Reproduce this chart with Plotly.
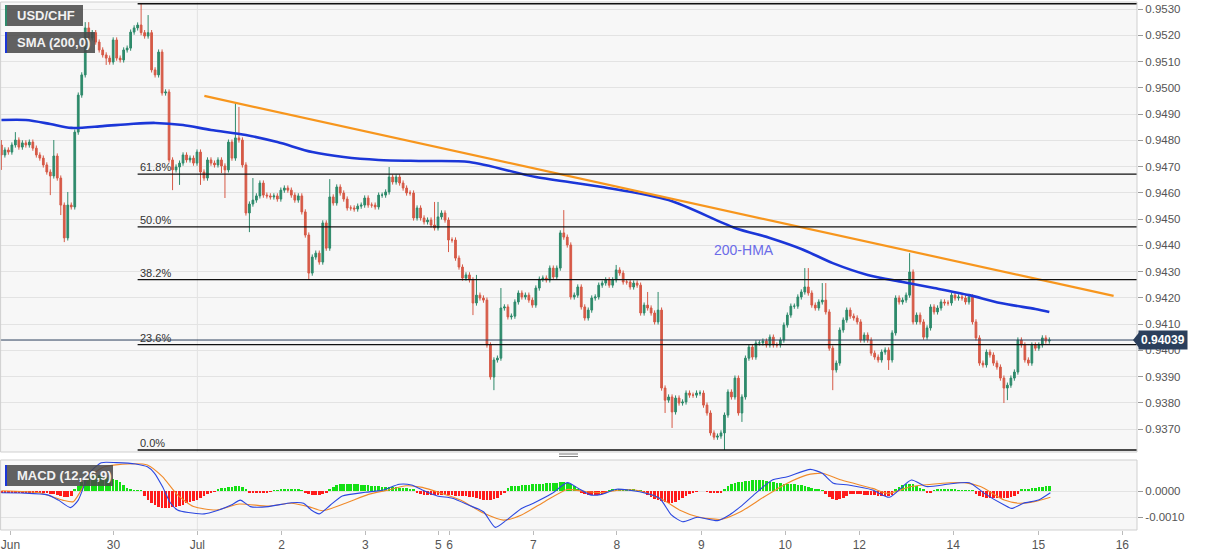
import plotly.graph_objects as go

# ---------------- data ----------------
first_open = 0.94782
close = [
    0.94744, 0.94763, 0.94755, 0.94782, 0.94801, 0.94774, 0.94790,
    0.94782, 0.94793, 0.94770, 0.94744, 0.94732, 0.94706, 0.94679, 0.94664, 0.94740, 0.94656,
    0.94553, 0.94428, 0.94553, 0.94546, 0.94831, 0.94972, 0.95049, 0.95228, 0.95190, 0.95210,
    0.95174, 0.95144, 0.95125, 0.95113, 0.95098,
    0.95182, 0.95113, 0.95106, 0.95144, 0.95151, 0.95212, 0.95228, 0.95239, 0.95210, 0.95197,
    0.95210, 0.95068, 0.95049, 0.95136, 0.94980, 0.94984, 0.94725, 0.94687, 0.94698, 0.94713, 0.94744,
    0.94725, 0.94732, 0.94713,
    0.94755, 0.94679, 0.94656, 0.94725, 0.94713,
    0.94706, 0.94725, 0.94702, 0.94687, 0.94793, 0.94732, 0.94809, 0.94801, 0.94706, 0.94523,
    0.94557, 0.94572, 0.94588, 0.94637, 0.94591, 0.94588, 0.94584, 0.94588, 0.94576, 0.94610,
    0.94618, 0.94610, 0.94591, 0.94572, 0.94588, 0.94527, 0.94439, 0.94294, 0.94355, 0.94370,
    0.94336, 0.94485, 0.94389, 0.94584, 0.94561, 0.94622, 0.94599, 0.94576, 0.94542, 0.94542,
    0.94538, 0.94549, 0.94553, 0.94580, 0.94553, 0.94553, 0.94546, 0.94591, 0.94591, 0.94603,
    0.94660, 0.94641, 0.94660, 0.94637, 0.94618, 0.94599, 0.94599, 0.94504, 0.94542, 0.94504,
    0.94489, 0.94496, 0.94477, 0.94466, 0.94508, 0.94523, 0.94496, 0.94420, 0.94420, 0.94351,
    0.94317, 0.94275, 0.94287, 0.94268, 0.94180, 0.94210, 0.94199, 0.94191, 0.94020, 0.93898,
    0.93963, 0.93970, 0.94161, 0.94165, 0.94127, 0.94130, 0.94184, 0.94218, 0.94203, 0.94210,
    0.94191, 0.94172, 0.94237, 0.94271, 0.94275, 0.94268, 0.94313, 0.94279, 0.94313, 0.94447,
    0.94431, 0.94401, 0.94203, 0.94210, 0.94241, 0.94165, 0.94123, 0.94153, 0.94199, 0.94203,
    0.94248, 0.94256, 0.94268, 0.94248, 0.94268, 0.94306, 0.94294, 0.94260, 0.94260, 0.94241,
    0.94256, 0.94248, 0.94142, 0.94172, 0.94161, 0.94142, 0.94108, 0.94153, 0.93856, 0.93810,
    0.93822, 0.93765, 0.93818, 0.93799, 0.93803, 0.93837, 0.93829, 0.93829, 0.93837, 0.93837,
    0.93791, 0.93761, 0.93685, 0.93669, 0.93673, 0.93685, 0.93753, 0.93841, 0.93822, 0.93894,
    0.93761, 0.93822, 0.93970, 0.94012, 0.93974, 0.94028, 0.94028, 0.94035, 0.94020, 0.94050,
    0.94020, 0.94020, 0.94039, 0.94096, 0.94134, 0.94168, 0.94168, 0.94203, 0.94222, 0.94241,
    0.94218, 0.94172, 0.94161, 0.94184, 0.94191, 0.94146, 0.94008, 0.93925, 0.93951, 0.94077,
    0.94115, 0.94153, 0.94130, 0.94123, 0.94108, 0.94039, 0.94058, 0.94039, 0.93989, 0.93974,
    0.93963, 0.93993, 0.94001, 0.93963, 0.94066, 0.94199, 0.94184, 0.94191, 0.94210, 0.94298,
    0.94108, 0.94134, 0.94108, 0.94050, 0.94085, 0.94165, 0.94146, 0.94161, 0.94184, 0.94180,
    0.94180, 0.94210, 0.94199, 0.94203, 0.94199, 0.94184, 0.94203, 0.94108, 0.94047, 0.93951,
    0.93944, 0.93993, 0.93982, 0.93951, 0.93936, 0.93894, 0.93856, 0.93867, 0.93894, 0.93917,
    0.94039, 0.94020, 0.93963, 0.93951, 0.94020, 0.94008, 0.94020, 0.94047, 0.94035, 0.94039,
]

# notable wick extremes (candle index -> price)
high_points = {0: 0.94801, 4: 0.94831, 15: 0.94801, 19: 0.94603, 24: 0.95250, 25: 0.95250,
               40: 0.95323, 42: 0.95277, 67: 0.94942, 68: 0.94927, 72: 0.94656, 94: 0.94652,
               111: 0.94698, 124: 0.94565, 125: 0.94565, 136: 0.94287, 143: 0.94237,
               161: 0.94534, 176: 0.94325, 185: 0.94222, 188: 0.94222, 230: 0.94313,
               231: 0.94313, 235: 0.94256, 236: 0.94256, 260: 0.94370}
low_points = {0: 0.94687, 14: 0.94591, 17: 0.94515, 18: 0.94412, 30: 0.95087, 49: 0.94610,
              51: 0.94630, 57: 0.94630, 63: 0.94675, 64: 0.94580, 71: 0.94450, 88: 0.94268,
              128: 0.94374, 135: 0.94134, 141: 0.93848, 190: 0.93761, 192: 0.93704,
              207: 0.93620, 212: 0.93727, 238: 0.93848, 254: 0.93925, 287: 0.93799, 288: 0.93810}
typical_wick = 0.00010

# 200-hour SMA (sampled along the curve)
sma_idx = [0, 7, 14, 20, 29, 37, 44, 52, 60, 70, 79, 89, 98, 108, 121, 134, 153, 172, 191,
           210, 220, 229, 238, 248, 258, 267, 277, 286, 296, 300]
sma_val = [0.94877, 0.94877, 0.94862, 0.94847, 0.94854, 0.94862, 0.94866, 0.94858, 0.94839,
           0.94820, 0.94793, 0.94755, 0.94736, 0.94725, 0.94721, 0.94717, 0.94660, 0.94622,
           0.94572, 0.94466, 0.94428, 0.94386, 0.94332, 0.94287, 0.94260, 0.94237, 0.94210,
           0.94180, 0.94157, 0.94146]

# descending trend line
trend_idx = [58.1, 318.4]
trend_val = [0.94969, 0.94207]

# Fibonacci retracement (low 0.9362 -> high 0.9532)
fib_low, fib_high = 0.93620, 0.95320
fib_levels = [0.0, 0.236, 0.382, 0.5, 0.618, 1.0]
fib_labels = ["0.0%", "23.6%", "38.2%", "50.0%", "61.8%", ""]
fib_start = 39

last_price = 0.94039

# MACD (12,26,9) in units of 0.0001
macd_idx = [0, 6.6, 13.2, 16.3, 19.8, 22.0, 25.2, 28.6, 32.9, 38.4, 41.8, 43.8, 46.1, 48.4,
            50.4, 53.5, 58.1, 61.6, 65.8, 68.4, 71.3, 76.4, 83.0, 86.5, 88.7, 91.0, 94.2,
            97.6, 104.2, 109.4, 113.9, 117.4, 120.5, 124.8, 129.1, 133.7, 138.0, 141.4,
            144.6, 148.9, 152.3, 157.7, 162.0, 165.2, 168.6, 171.8, 176.1, 182.7, 188.4,
            191.8, 195.0, 199.3, 205.0, 208.4, 211.6, 215.9, 220.7, 225.0, 231.6, 235.0,
            238.2, 242.5, 249.4, 254.2, 260.5, 264.8, 271.4, 277.1, 281.4, 287.1, 289.2,
            292.6, 296.9, 300.3]
macd_val = [-0.7, -0.8, -1.5, -3.5, -6.4, -3.5, 6.9, 10.9, 10.9, 10.4, 9.3, 6.9, 1.7, -4.6,
            -7.3, -8.3, -8.8, -7.6, -5.4, -3.5, -6.0, -6.0, -4.5, -4.7, -7.3, -8.8, -5.4,
            -1.9, -0.5, 0.4, 2.6, 2.3, 0.4, -1.9, -2.8, -5.4, -8.0, -14.0,
            -11.2, -6.7, -4.7, -0.9, 3.2, 1.0, -1.5, -1.3, 0.7, -0.3, -2.8,
            -9.2, -11.8, -10.1, -11.4, -9.2, -6.0, -0.9, 4.2, 5.5, 8.3, 6.8,
            3.0, 2.3, 0.4, -2.4, 4.2, 1.7, 2.7, 3.2, -0.9, -5.4, -6.7,
            -4.7, -3.5, -0.7]
signal_idx = [0, 10.9, 17.5, 20.6, 25.2, 29.5, 36.1, 41.8, 46.1, 50.4, 55.0, 61.6, 68.1,
              76.4, 83.0, 87.9, 91.9, 98.5, 105.1, 110.8, 115.9, 120.5, 126.0, 131.4, 138.0,
              143.7, 148.9, 155.5, 162.0, 167.5, 171.8, 177.5, 182.7, 189.5, 194.1, 199.3,
              206.1, 211.6, 218.4, 225.0, 230.7, 235.0, 240.5, 249.4, 253.9, 260.5, 267.1,
              275.7, 280.3, 287.1, 291.4, 295.7, 300.3]
signal_val = [0.1, -0.7, -3.5, -4.1, 5.5, 9.3, 10.4, 10.0, 5.5, -1.5, -6.0, -7.3, -5.0,
              -5.8, -4.7, -6.0, -7.6, -4.7, -1.3, 0.4, 2.0, 1.4, -0.9, -3.5, -8.5,
              -11.2, -9.2, -4.1, 0.6, -0.3, -0.6, 0.4, 0.1, -3.5, -7.3, -9.9,
              -10.9, -8.0, -2.2, 3.0, 6.2, 6.8, 4.2, 1.0, -0.9, 1.7, 2.7,
              3.2, 1.7, -3.5, -4.7, -4.1, -2.4]
hist_val = [
    -0.5, -0.5, -0.6, -0.6, -0.5, -0.5, -0.6, -0.7, -0.7, -0.6,
    -0.6, -0.7, -0.8, -0.7, -1.0, -1.3, -1.6, -1.9, -2.2, -2.3,
    -1.8, 0.8, 2.0, 3.5, 4.6, 5.4, 6.0, 6.2, 6.0, 5.6,
    5.2, 4.8, 4.5, 4.2, 3.5, 2.3, 1.2, 0.6, 0.3, 0.2,
    0.1, -2.0, -3.5, -4.6, -5.4, -6.0, -6.5, -6.6, -6.6, -6.3,
    -6.0, -5.6, -5.2, -4.8, -4.4, -4.0, -3.3, -2.5, -1.8, -1.1,
    -0.5, -0.2, 0.6, 1.0, 1.3, 1.5, 1.7, 1.9, 1.9, 1.5,
    0.8, -0.6, -0.8, -0.8, -0.7, -0.6, -0.4, -0.2, 0.1, 0.3,
    0.5, 0.6, 0.6, 0.6, 0.5, 0.4, 0.2, -0.6, -1.1, -1.5,
    -1.6, -1.4, -1.0, -0.4, 0.8, 1.6, 2.3, 2.6, 2.7, 2.7,
    2.6, 2.5, 2.5, 2.4, 2.3, 2.2, 2.0, 1.9, 1.8, 1.7,
    1.6, 1.6, 1.5, 1.4, 1.3, 1.2, 1.1, 0.8, 0.4, -0.8,
    -1.2, -1.5, -1.5, -1.6, -1.6, -1.5, -1.5, -1.6, -1.7, -1.7,
    -1.8, -1.8, -1.9, -2.0, -2.2, -2.4, -2.7, -3.0, -3.3, -3.5,
    -3.5, -3.1, -2.5, -1.5, -0.5, 1.2, 1.8, 2.0, 2.1, 2.2,
    2.3, 2.4, 2.5, 2.6, 2.7, 2.8, 2.9, 3.0, 3.1, 3.2,
    3.4, 3.5, 3.2, 2.5, 1.8, 0.8, -0.8, -1.3, -1.5, -1.5,
    -1.5, -1.4, -1.0, -0.5, 0.3, 0.6, 0.8, 0.8, 0.8, 0.7,
    0.6, 0.4, 0.2, 0.1, -0.8, -1.5, -2.3, -3.0, -3.6, -4.0,
    -4.3, -4.5, -4.6, -4.2, -3.5, -2.7, -1.9, -1.2, -0.6, -0.2,
    0.0, 0.0, -0.3, -0.8, -0.9, -0.8, -0.4, 0.8, 1.8, 2.7,
    3.1, 3.3, 3.5, 3.7, 3.9, 4.1, 4.2, 4.2, 4.1, 3.9,
    3.6, 3.4, 3.2, 3.0, 2.8, 2.7, 2.6, 2.5, 2.4, 2.3,
    2.0, 1.6, 1.2, 0.9, 0.6, 0.3, -1.2, -2.3, -3.1, -3.5,
    -3.2, -2.5, -1.8, -1.3, -1.2, -1.2, -1.3, -1.4, -1.5, -1.6,
    -1.7, -1.8, -1.9, -1.9, -1.9, -1.7, 0.8, 1.6, 2.2, 2.6,
    2.7, 2.5, 2.0, 1.3, 0.6, -0.5, -0.4, 0.3, 0.4, 0.4,
    0.4, 0.5, 0.4, 0.4, 0.3, 0.3, 0.2, 0.2, 0.1, -1.2,
    -1.9, -2.3, -2.6, -2.7, -2.7, -2.7, -2.6, -2.6, -2.5, -2.3,
    -1.9, -1.2, 0.4, 0.6, 0.8, 1.0, 1.2, 1.4, 1.6, 1.8,
    1.9,
]

# time axis labels (candle index of each day label)
day_pos = [2.6, 32.1, 56.1, 80.2, 104.2, 125.1, 128.3, 152.3, 176.2, 200.4, 224.4, 245.6,
           272.5, 296.9, 320.9]
day_text = ["Jun", "30", "Jul", "2", "3", "5", "6", "7", "8", "9", "10", "12", "14", "15", "16"]

# ---------------- build ----------------
n = len(close)
idx = list(range(n))
opens = [first_open] + close[:-1]
highs, lows = [], []
for i, (o, c) in enumerate(zip(opens, close)):
    h = max(o, c) + typical_wick
    l = min(o, c) - typical_wick
    if i in high_points:
        h = max(high_points[i], o, c)
    if i in low_points:
        l = min(low_points[i], o, c)
    highs.append(h)
    lows.append(l)

W, H = 1207, 555
PX = 1137 / W
main_dom = [1 - 452 / H, 1 - 2 / H]
macd_dom = [1 - 530 / H, 1 - 460 / H]
XR = [-0.4, 325.1]
FONT = "Liberation Sans, Arial, sans-serif"
UP, DOWN = "#2e8a6b", "#d65a47"

fig = go.Figure()
fig.add_trace(go.Candlestick(
    x=idx, open=opens, high=highs, low=lows, close=close,
    increasing=dict(line=dict(color=UP, width=1), fillcolor=UP),
    decreasing=dict(line=dict(color=DOWN, width=1), fillcolor=DOWN),
    whiskerwidth=0, showlegend=False, xaxis="x", yaxis="y"))
fig.add_trace(go.Scatter(x=sma_idx, y=sma_val, mode="lines", line=dict(color="#1b36d8", width=2.6, shape="spline", smoothing=0.8),
                         showlegend=False, xaxis="x", yaxis="y"))
fig.add_trace(go.Scatter(x=trend_idx, y=trend_val, mode="lines", line=dict(color="#f7961d", width=2.2),
                         showlegend=False, xaxis="x", yaxis="y"))

hist_colors = ["#14e014" if v >= 0 else "#ff1a1a" for v in hist_val]
fig.add_trace(go.Bar(x=idx, y=[v / 10000 for v in hist_val], marker=dict(color=hist_colors, line=dict(width=0)),
                     width=0.75, showlegend=False, xaxis="x2", yaxis="y2"))
fig.add_trace(go.Scatter(x=signal_idx, y=[v / 10000 for v in signal_val], mode="lines",
                         line=dict(color="#f08a2a", width=1.1, shape="spline", smoothing=0.6),
                         showlegend=False, xaxis="x2", yaxis="y2"))
fig.add_trace(go.Scatter(x=macd_idx, y=[v / 10000 for v in macd_val], mode="lines",
                         line=dict(color="#2b47e0", width=1.1, shape="spline", smoothing=0.6),
                         showlegend=False, xaxis="x2", yaxis="y2"))

shapes = []
annotations = []
# fib lines
for lv, lab in zip(fib_levels, fib_labels):
    price = fib_low + lv * (fib_high - fib_low)
    shapes.append(dict(type="line", xref="x", yref="y", x0=fib_start, x1=XR[1], y0=price, y1=price,
                       line=dict(color="#111111", width=1.3), layer="above"))
    if lab:
        annotations.append(dict(x=fib_start, y=price, xref="x", yref="y", text=lab, showarrow=False,
                                xanchor="left", yanchor="bottom", yshift=-1,
                                font=dict(family=FONT, size=11, color="#333333")))
# last price line
shapes.append(dict(type="line", xref="x", yref="y", x0=XR[0], x1=XR[1], y0=last_price, y1=last_price,
                   line=dict(color="#2b3f5c", width=1), layer="above"))
# Jul vertical grid line
for xr, yr in (("x", "y domain"), ("x2", "y2 domain")):
    shapes.append(dict(type="line", xref=xr, yref=yr, x0=56.1, x1=56.1, y0=0, y1=1,
                       line=dict(color="#e2e2e2", width=1), layer="below"))
# panel borders
shapes.append(dict(type="rect", xref="paper", yref="paper", x0=0.0005, x1=PX, y0=main_dom[0], y1=main_dom[1],
                   line=dict(color="#cfcfcf", width=1)))
shapes.append(dict(type="rect", xref="paper", yref="paper", x0=0.0005, x1=PX, y0=macd_dom[0], y1=macd_dom[1],
                   line=dict(color="#cfcfcf", width=1)))
# separator handle
for yy in (454, 456.5):
    shapes.append(dict(type="line", xref="paper", yref="paper", x0=559 / W, x1=578 / W, y0=1 - yy / H, y1=1 - yy / H,
                       line=dict(color="#777777", width=1)))
# price tag
shapes.append(dict(type="path", xref="paper", yref="y",
                   path=f"M {1133 / W},{last_price} L {1139 / W},{last_price + 0.00029} L {1139 / W},{last_price - 0.00029} Z",
                   fillcolor="#2b3f5c", line=dict(width=0)))
annotations.append(dict(x=1138 / W, y=last_price, xref="paper", yref="y", text="<b>0.94039</b>", showarrow=False,
                        xanchor="left", yanchor="middle", bgcolor="#2b3f5c", borderpad=2,
                        font=dict(family=FONT, size=12, color="white")))
# legend boxes
boxes = [("USD/CHF", 5, 83, 5, 26, "#2e8a6b"),
         ("SMA (200,0)", 5, 95, 32, 53, "#1b36d8"),
         ("MACD (12,26,9)", 5, 113, 465, 486, "#1b36d8")]
for text, x0, x1, y0, y1, acc in boxes:
    shapes.append(dict(type="rect", xref="paper", yref="paper", x0=x0 / W, x1=x1 / W, y0=1 - y1 / H, y1=1 - y0 / H,
                       fillcolor="rgba(72,72,72,0.86)", line=dict(width=0), layer="above"))
    shapes.append(dict(type="rect", xref="paper", yref="paper", x0=x0 / W, x1=(x0 + 2) / W, y0=1 - y1 / H, y1=1 - y0 / H,
                       fillcolor=acc, line=dict(width=0), layer="above"))
    annotations.append(dict(x=15 / W, y=1 - (y0 + y1) / 2 / H, xref="paper", yref="paper", text=f"<b>{text}</b>",
                            showarrow=False, xanchor="left", yanchor="middle",
                            font=dict(family=FONT, size=13, color="#f2f2f2")))
annotations.append(dict(x=212.5, y=0.94382, xref="x", yref="y", text="200-HMA", showarrow=False,
                        font=dict(family=FONT, size=14, color="#6b6be8")))

fig.update_layout(
    width=W, height=H, margin=dict(l=0, r=0, t=0, b=0),
    paper_bgcolor="white", plot_bgcolor="#f7f7f7",
    showlegend=False, bargap=0,
    shapes=shapes, annotations=annotations,
    xaxis=dict(domain=[0, PX], range=XR, anchor="y", showticklabels=False, showgrid=False, zeroline=False,
               rangeslider=dict(visible=False), fixedrange=True),
    yaxis=dict(domain=main_dom, range=[0.936124, 0.953267], side="right", anchor="x", dtick=0.001,
               tick0=0.937, tickformat=".4f", ticks="outside", ticklen=5, tickcolor="#999999",
               gridcolor="#e3e3e3", zeroline=False, showline=False,
               tickfont=dict(family=FONT, size=11.5, color="#555555")),
    xaxis2=dict(domain=[0, PX], range=XR, anchor="y2", matches="x", tickmode="array", tickvals=day_pos,
                ticktext=day_text, tickangle=0, ticks="outside", ticklen=4, tickcolor="#bbbbbb",
                ticklabeloverflow="allow",
                showgrid=False, zeroline=False, tickfont=dict(family=FONT, size=12, color="#555555")),
    yaxis2=dict(domain=macd_dom, range=[-0.0015, 0.001192], side="right", anchor="x2",
                tickvals=[0.0, -0.001], ticktext=["0.0000", "-0.0010"], ticks="outside", ticklen=5,
                tickcolor="#999999", gridcolor="#e3e3e3", zeroline=False,
                tickfont=dict(family=FONT, size=11.5, color="#555555")),
)

fig.write_html("out.html", config={"displayModeBar": False},
               post_script="document.body.style.margin='0px';document.body.style.overflow='hidden';")
